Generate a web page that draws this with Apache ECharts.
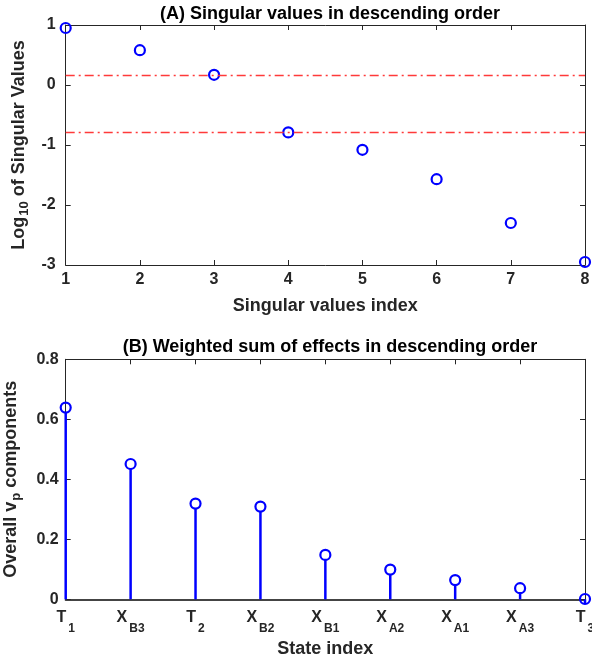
<!DOCTYPE html>
<html><head><meta charset="utf-8">
<script src="https://cdn.jsdelivr.net/npm/echarts@6/dist/echarts.min.js"></script>
<style>html,body{margin:0;padding:0;background:#fff}#c{width:592px;height:662px}</style>
</head><body><div id="c"></div>
<script>
// Panel A data
const svIndex = [1, 2, 3, 4, 5, 6, 7, 8];
const svLog10 = [0.95, 0.58, 0.17, -0.79, -1.08, -1.57, -2.3, -2.95];
const thresholdLines = [0.17, -0.79];
// Panel B data
const stateMain = ['T', 'X', 'T', 'X', 'X', 'X', 'X', 'X', 'T'];
const stateSub = ['1', 'B3', '2', 'B2', 'B1', 'A2', 'A1', 'A3', '3'];
const stateValues = [0.639, 0.451, 0.319, 0.309, 0.148, 0.099, 0.064, 0.037, 0.001];

const FONT = 'Liberation Sans';
const TXT = '#262626';
const BLUE = '#0000ff';
const chart = echarts.init(document.getElementById('c'), null, {renderer: 'canvas'});

const tickStyle = {show: true, inside: true, length: 5, lineStyle: {color: TXT, width: 1}};
const lineStyle = {color: TXT, width: 1};
const lbl = {color: TXT, fontFamily: FONT, fontWeight: 'bold', fontSize: 16};
const rich = {
  m: {color: TXT, fontFamily: FONT, fontWeight: 'bold', fontSize: 16, verticalAlign: 'top'},
  s: {color: TXT, fontFamily: FONT, fontWeight: 'bold', fontSize: 12, padding: [13, 0, 0, 2]}
};
const nameRich = {
  m: {color: TXT, fontFamily: FONT, fontWeight: 'bold', fontSize: 18},
  s: {color: TXT, fontFamily: FONT, fontWeight: 'bold', fontSize: 13, padding: [11, 0, 0, 1]}
};
const nameStyle = {color: TXT, fontFamily: FONT, fontWeight: 'bold', fontSize: 18};
const titleStyle = {color: '#000', fontFamily: FONT, fontWeight: 'bold', fontSize: 18};

const stemData = stateValues.map((v, i) => [i + 1, v]);

const option = {
  animation: false,
  title: [
    {text: '(A) Singular values in descending order', left: 325, top: 0, textAlign: 'center', textStyle: titleStyle},
    {text: '(B) Weighted sum of effects in descending order', left: 325, top: 333, textAlign: 'center', textStyle: titleStyle}
  ],
  grid: [
    {left: 65.7, right: 7, top: 25, height: 240, containLabel: false, outerBoundsMode: 'none'},
    {left: 65.7, right: 7, top: 359.3, height: 240, containLabel: false, outerBoundsMode: 'none'}
  ],
  xAxis: [
    {gridIndex: 0, type: 'value', min: 1, max: 8, interval: 1, position: 'bottom',
     axisLine: {show: true, onZero: false, lineStyle}, axisTick: tickStyle, splitLine: {show: false},
     axisLabel: Object.assign({margin: 7}, lbl),
     name: 'Singular values index', nameLocation: 'middle', nameGap: 32, nameTextStyle: nameStyle},
    {gridIndex: 0, type: 'value', min: 1, max: 8, interval: 1, position: 'top',
     axisLine: {show: true, onZero: false, lineStyle}, axisTick: tickStyle, axisLabel: {show: false}, splitLine: {show: false}},
    {gridIndex: 1, type: 'value', min: 1, max: 9, interval: 1, position: 'bottom',
     axisLine: {show: true, onZero: false, lineStyle: {color: '#444', width: 2}}, axisTick: tickStyle, splitLine: {show: false},
     axisLabel: {margin: 10, formatter: v => '{m|' + stateMain[v - 1] + '}{s|' + stateSub[v - 1] + '}', rich},
     name: 'State index', nameLocation: 'middle', nameGap: 41, nameTextStyle: nameStyle},
    {gridIndex: 1, type: 'value', min: 1, max: 9, interval: 1, position: 'top',
     axisLine: {show: true, onZero: false, lineStyle}, axisTick: tickStyle, axisLabel: {show: false}, splitLine: {show: false}}
  ],
  yAxis: [
    {gridIndex: 0, type: 'value', min: -3, max: 1, interval: 1, position: 'left',
     axisLine: {show: true, onZero: false, lineStyle}, axisTick: tickStyle, splitLine: {show: false},
     axisLabel: Object.assign({margin: 10}, lbl),
     name: '{m|Log}{s|10}{m| of Singular Values}', nameLocation: 'middle', nameGap: 31,
     nameTextStyle: {rich: nameRich}},
    {gridIndex: 0, type: 'value', min: -3, max: 1, interval: 1, position: 'right',
     axisLine: {show: true, onZero: false, lineStyle}, axisTick: tickStyle, axisLabel: {show: false}, splitLine: {show: false}},
    {gridIndex: 1, type: 'value', min: 0, max: 0.8, interval: 0.2, position: 'left',
     axisLine: {show: true, onZero: false, lineStyle}, axisTick: tickStyle, splitLine: {show: false},
     axisLabel: Object.assign({margin: 7, formatter: v => (v === 0 ? '0' : v.toFixed(1))}, lbl),
     name: '{m|Overall v}{s|p}{m| components}', nameLocation: 'middle', nameGap: 43,
     nameTextStyle: {rich: nameRich}},
    {gridIndex: 1, type: 'value', min: 0, max: 0.8, interval: 0.2, position: 'right',
     axisLine: {show: true, onZero: false, lineStyle}, axisTick: tickStyle, axisLabel: {show: false}, splitLine: {show: false}}
  ],
  series: [
    {type: 'scatter', xAxisIndex: 0, yAxisIndex: 0, clip: false,
     data: svIndex.map((x, i) => [x, svLog10[i]]),
     symbol: 'circle', symbolSize: 10,
     itemStyle: {color: 'transparent', borderColor: BLUE, borderWidth: 2.2, opacity: 1},
     markLine: {silent: true, symbol: 'none', label: {show: false},
       lineStyle: {color: '#ff3a3a', width: 1.3, type: [9, 4, 2, 4], opacity: 1},
       data: thresholdLines.map(v => ({yAxis: v}))}},
    {type: 'custom', xAxisIndex: 2, yAxisIndex: 2, data: stemData, z: 2, clip: false,
     renderItem: function (params, api) {
       const top = api.coord([api.value(0), api.value(1)]);
       const base = api.coord([api.value(0), 0]);
       return {type: 'line', shape: {x1: top[0], y1: top[1] + 5, x2: base[0], y2: base[1]},
               style: {stroke: BLUE, lineWidth: 2.5}};
     }},
    {type: 'scatter', xAxisIndex: 2, yAxisIndex: 2, clip: false,
     data: stemData, symbol: 'circle', symbolSize: 10,
     itemStyle: {color: 'transparent', borderColor: BLUE, borderWidth: 2.2, opacity: 1}, z: 3}
  ]
};
chart.setOption(option);
</script>
</body></html>
